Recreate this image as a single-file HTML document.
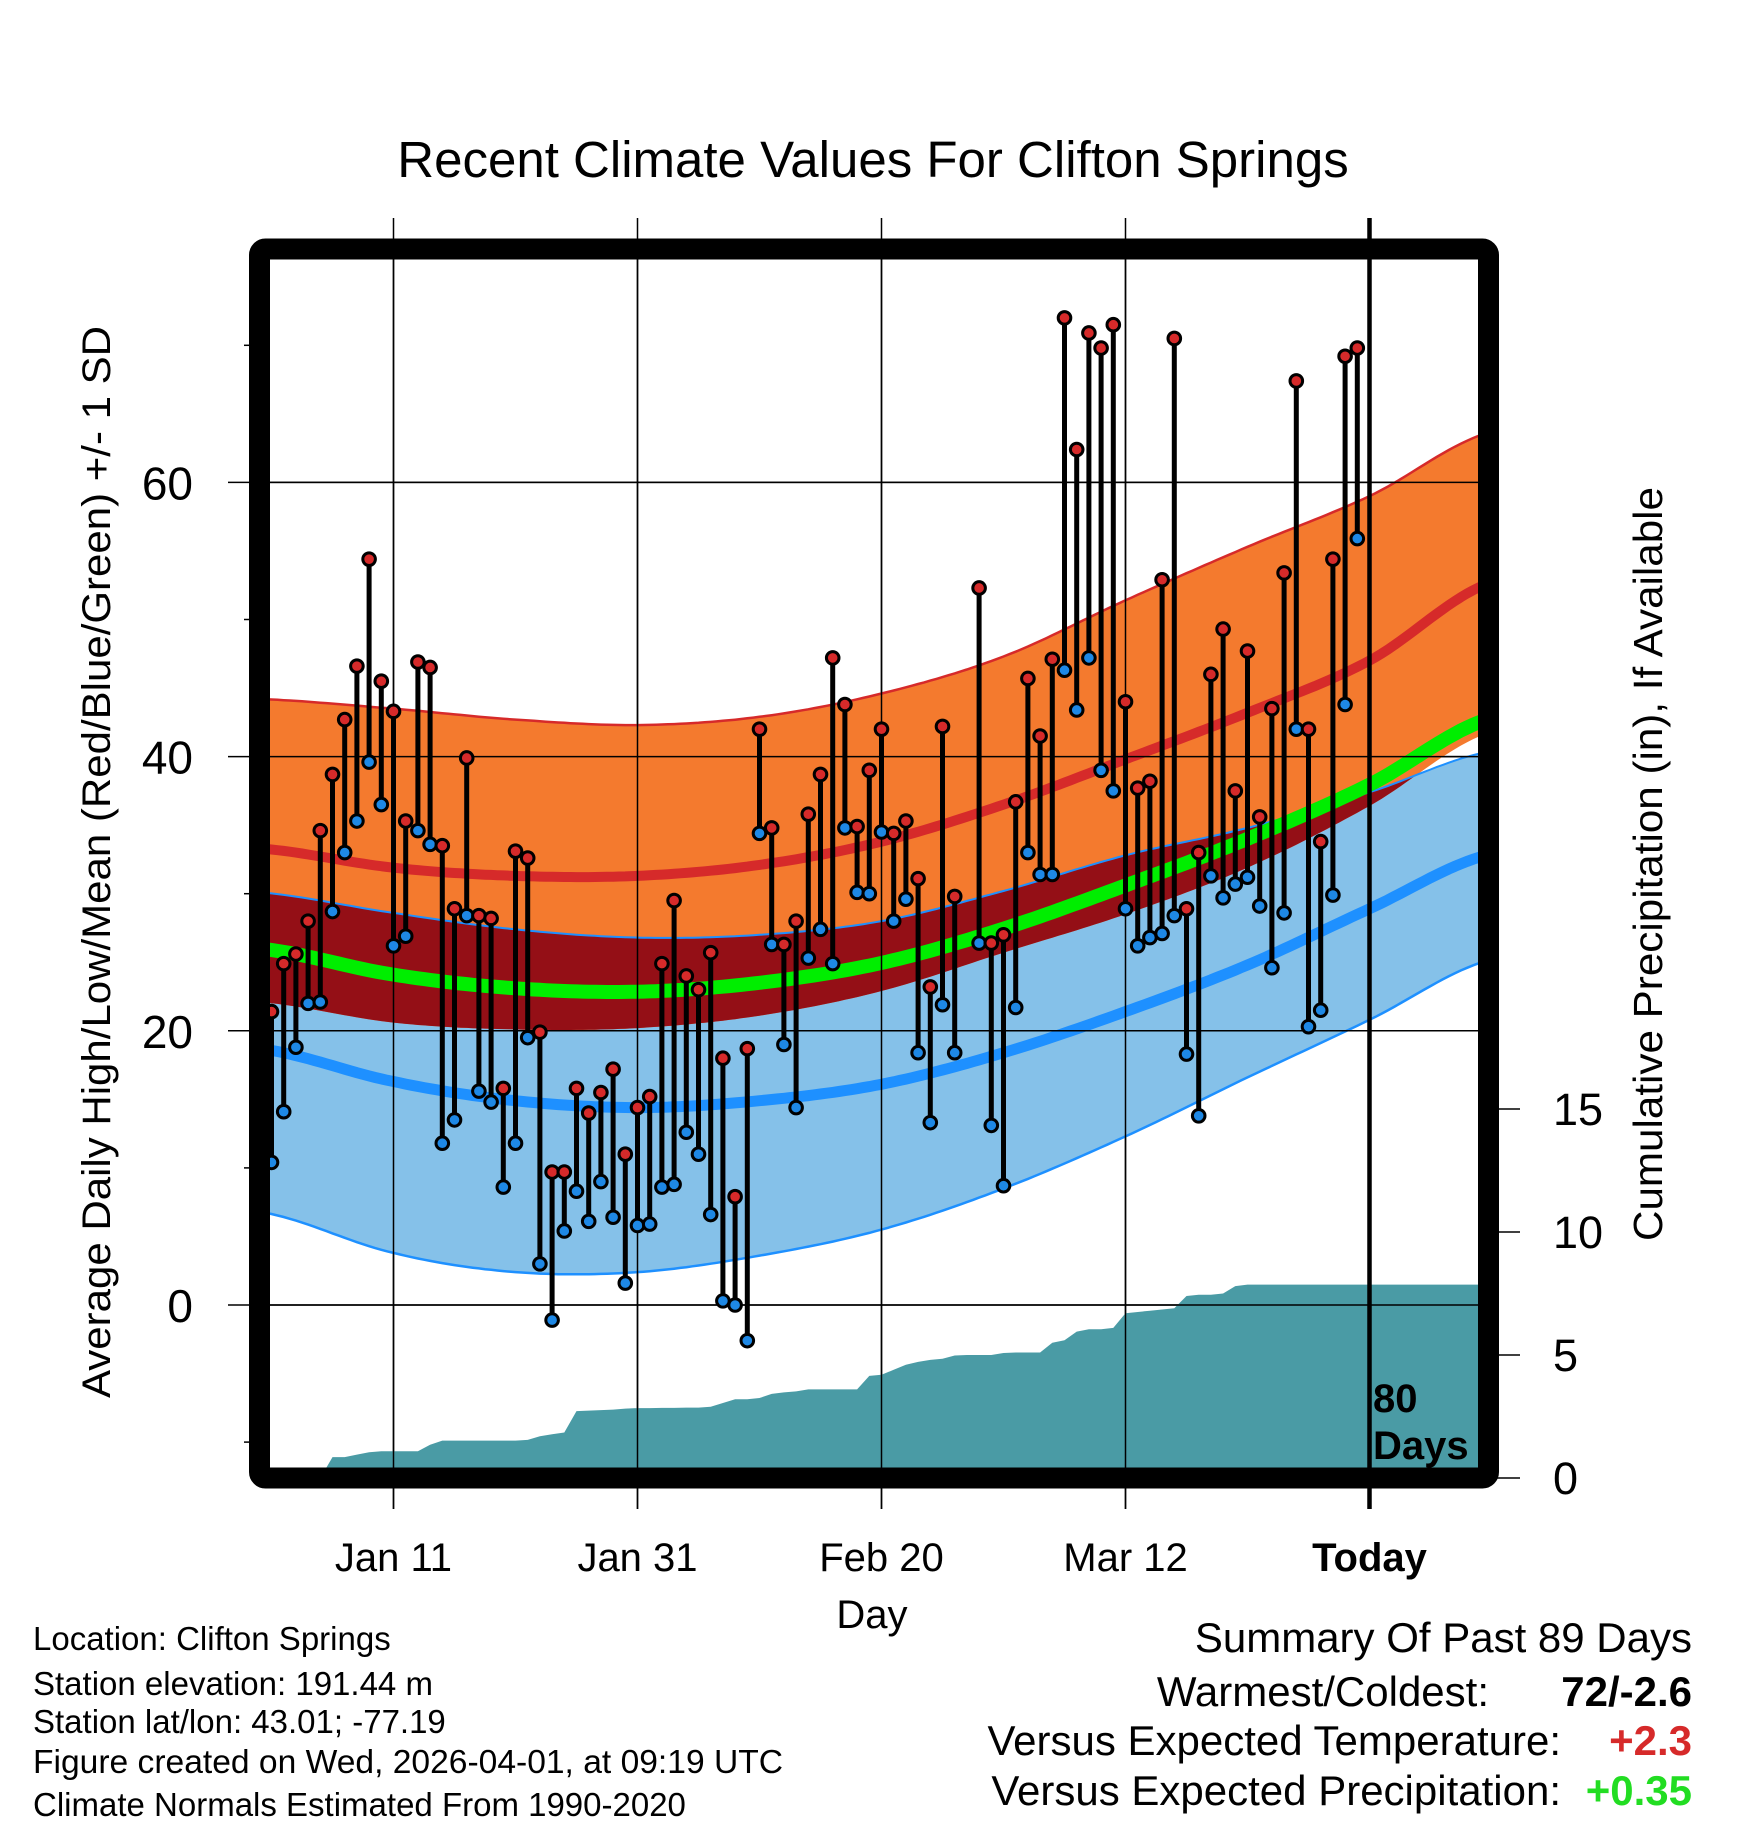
<!DOCTYPE html>
<html><head><meta charset="utf-8"><style>
html,body{margin:0;padding:0;background:#fff;}
svg{display:block;font-family:"Liberation Sans",Arial,sans-serif;}
</style></head><body>
<svg id="chart" width="1748" height="1828" viewBox="0 0 1748 1828" xmlns="http://www.w3.org/2000/svg">
<defs>
<clipPath id="plotclip"><rect x="260" y="249" width="1228" height="1229"/></clipPath>
<clipPath id="lowclip"><path id="lowclipPath" d=""/></clipPath>
</defs>
<rect x="0" y="0" width="1748" height="1828" fill="#fff"/>
<text x="873" y="177" font-size="51" text-anchor="middle">Recent Climate Values For Clifton Springs</text>
<g id="gridlayer"></g>
<g id="plot" clip-path="url(#plotclip)"></g>
<g id="overlay"></g>
<rect x="259.5" y="249" width="1229" height="1229" rx="6" fill="none" stroke="#000" stroke-width="21"/>
<g id="axes"></g>
<text transform="translate(110,862) rotate(-90)" font-size="40" text-anchor="middle" textLength="1072" lengthAdjust="spacingAndGlyphs">Average Daily High/Low/Mean (Red/Blue/Green) +/- 1 SD</text>
<text transform="translate(1662,864) rotate(-90)" font-size="41" text-anchor="middle" textLength="754" lengthAdjust="spacingAndGlyphs">Cumulative Precipitation (in), If Available</text>
<text x="872" y="1628" font-size="40" text-anchor="middle">Day</text>
<g font-size="33">
<text x="33" y="1650">Location: Clifton Springs</text>
<text x="33" y="1695">Station elevation: 191.44 m</text>
<text x="33" y="1733">Station lat/lon: 43.01; -77.19</text>
<text x="33" y="1773" textLength="750" lengthAdjust="spacingAndGlyphs">Figure created on Wed, 2026-04-01, at 09:19 UTC</text>
<text x="33" y="1816">Climate Normals Estimated From 1990-2020</text>
</g>
<g font-size="42">
<text x="1692" y="1652" text-anchor="end">Summary Of Past 89 Days</text>
<text x="1489" y="1706" text-anchor="end">Warmest/Coldest:</text>
<text x="1692" y="1706" text-anchor="end" font-weight="bold">72/-2.6</text>
<text x="1561" y="1755" text-anchor="end">Versus Expected Temperature:</text>
<text x="1692" y="1755" text-anchor="end" font-weight="bold" fill="#d62a2a">+2.3</text>
<text x="1561" y="1805" text-anchor="end">Versus Expected Precipitation:</text>
<text x="1692" y="1805" text-anchor="end" font-weight="bold" fill="#22dd22">+0.35</text>
</g>
</svg>
<script>
// ---- data ----
const normalDays = [-1,10,20,30,40,50,60,70,80,90,100];
const highPlusSD = [44.2,43.5,42.7,42.3,42.9,44.6,47.3,51.4,55.3,59.0,63.7];
const highMean   = [33.3,31.9,31.3,31.3,32.1,33.8,36.5,39.8,43.2,47.0,52.7];
const highMinusSD= [22.1,20.6,20.1,20.2,21.1,22.9,25.7,28.5,31.9,36.4,41.8];
const lowPlusSD  = [30.1,28.6,27.4,26.8,27.0,28.0,30.2,32.8,34.8,37.4,40.4];
const lowMean    = [18.7,16.3,14.9,14.4,14.9,16.1,18.4,21.4,24.8,28.9,32.9];
const lowMinusSD = [6.8,3.8,2.4,2.4,3.6,5.5,8.5,12.3,16.6,20.8,25.2];
const dailyHigh = [21.4,24.9,25.6,28.0,34.6,38.7,42.7,46.6,54.4,45.5,43.3,35.3,46.9,46.5,33.5,28.9,39.9,28.4,28.2,15.8,33.1,32.6,19.9,9.7,9.7,15.8,14.0,15.5,17.2,11.0,14.4,15.2,24.9,29.5,24.0,23.0,25.7,18.0,7.9,18.7,42.0,34.8,26.3,28.0,35.8,38.7,47.2,43.8,34.9,39.0,42.0,34.4,35.3,31.1,23.2,42.2,29.8,null,52.3,26.4,27.0,36.7,45.7,41.5,47.1,72.0,62.4,70.9,69.8,71.5,44.0,37.7,38.2,52.9,70.5,28.9,33.0,46.0,49.3,37.5,47.7,35.6,43.5,53.4,67.4,42.0,33.8,54.4,69.2,69.8];
const dailyLow  = [10.4,14.1,18.8,22.0,22.1,28.7,33.0,35.3,39.6,36.5,26.2,26.9,34.6,33.6,11.8,13.5,28.4,15.6,14.8,8.6,11.8,19.5,3.0,-1.1,5.4,8.3,6.1,9.0,6.4,1.6,5.8,5.9,8.6,8.8,12.6,11.0,6.6,0.3,0.0,-2.6,34.4,26.3,19.0,14.4,25.3,27.4,24.9,34.8,30.1,30.0,34.5,28.0,29.6,18.4,13.3,21.9,18.4,null,26.4,13.1,8.7,21.7,33.0,31.4,31.4,46.3,43.4,47.2,39.0,37.5,28.9,26.2,26.8,27.1,28.4,18.3,13.8,31.3,29.7,30.7,31.2,29.1,24.6,28.6,42.0,20.3,21.5,29.9,43.8,55.9];
const cumPrecip = [0,0,0,0,0,0.85,0.85,0.95,1.05,1.09,1.09,1.09,1.09,1.35,1.52,1.52,1.52,1.52,1.52,1.52,1.52,1.55,1.7,1.78,1.85,2.72,2.74,2.76,2.78,2.82,2.84,2.84,2.85,2.85,2.86,2.86,2.9,3.05,3.2,3.2,3.25,3.42,3.48,3.52,3.6,3.6,3.6,3.6,3.6,4.15,4.2,4.4,4.6,4.72,4.8,4.85,4.98,5.0,5.0,5.0,5.08,5.1,5.1,5.1,5.5,5.6,5.95,6.05,6.05,6.1,6.7,6.75,6.8,6.85,6.9,7.4,7.45,7.45,7.5,7.8,7.86,7.86,7.86,7.86,7.86,7.86,7.86,7.86,7.86,7.86];
const xTickDays = [10,30,50,70,90];
const xTickLabels = ["Jan 11","Jan 31","Feb 20","Mar 12","Today"];
const yMajorTicks = [0,20,40,60];
const yMinorTicks = [-10,10,30,50,70];
const precipTicks = [0,5,10,15];

// ---- scales ----
const xd = d => 271.5 + 12.2*d;
const yt = t => 1305 - 13.71*t;
const yp = p => 1478 - 24.6*p;
const NS = "http://www.w3.org/2000/svg";
function mk(tag, attrs, parent){const e=document.createElementNS(NS,tag);for(const k in attrs)e.setAttribute(k,attrs[k]);parent.appendChild(e);return e;}
function interp(arr, d){
  let i=0; while(i<normalDays.length-2 && d>normalDays[i+1]) i++;
  const t=(d-normalDays[i])/(normalDays[i+1]-normalDays[i]);
  const p0=arr[Math.max(i-1,0)],p1=arr[i],p2=arr[i+1],p3=arr[Math.min(i+2,arr.length-1)];
  const t2=t*t,t3=t2*t;
  return 0.5*((2*p1)+(-p0+p2)*t+(2*p0-5*p1+4*p2-p3)*t2+(-p0+3*p1-3*p2+p3)*t3);
}
const samples=[]; for(let d=-1; d<=100; d+=0.5) samples.push(d);
function linePts(arr){return samples.map(d=>xd(d).toFixed(1)+","+yt(interp(arr,d)).toFixed(1));}
function bandPath(top,bot){const a=linePts(top), b=linePts(bot).reverse();return "M"+a.join("L")+"L"+b.join("L")+"Z";}

const plot=document.getElementById('plot');
const grid=document.getElementById('gridlayer');
const overlay=document.getElementById('overlay');
const axes=document.getElementById('axes');

let pp="M"+xd(0)+","+yp(0);
cumPrecip.forEach((v,i)=>{pp+="L"+xd(i).toFixed(1)+","+yp(v).toFixed(1);});
pp+="L"+xd(100)+","+yp(cumPrecip[cumPrecip.length-1]).toFixed(1)+"L"+xd(100)+","+yp(0)+"Z";
const precipArea=mk('path',{d:pp,fill:'#4a9ba5'},plot);



const lowBand=bandPath(lowPlusSD,lowMinusSD);
document.getElementById('lowclipPath').setAttribute('d',lowBand);
const lb=mk('path',{d:lowBand,fill:'#85c1e9'},plot);


const highBand=bandPath(highPlusSD,highMinusSD);
const hb=mk('path',{d:highBand,fill:'#f47a2e'},plot);


const ov=mk('path',{d:highBand,fill:'#940f16','clip-path':'url(#lowclip)'},plot);



function curve(arr,color,w,name){
  const p=mk('polyline',{points:linePts(arr).join(" "),fill:'none',stroke:color,'stroke-width':w},plot);
  
  
}
curve(highPlusSD,'#d62a2a',2.5,'high-plus-sd-line');
curve(lowPlusSD,'#1e90ff',2,'low-plus-sd-line');
curve(lowMinusSD,'#1e90ff',2.5,'low-minus-sd-line');
curve(highMean,'#d62a2a',10,'high-mean-line');
curve(lowMean,'#1e90ff',11,'low-mean-line');
const avgMean=highMean.map((v,i)=>(v+lowMean[i])/2);
curve(avgMean,'#00ee00',14,'average-mean-line');

xTickDays.slice(0,4).forEach(d=>{
  const l=mk('line',{x1:xd(d),x2:xd(d),y1:218,y2:1509,stroke:'#000','stroke-width':1.5},grid);
  
  
});
xTickDays.slice(0,4).forEach(d=>{
  const l=mk('line',{x1:xd(d),x2:xd(d),y1:249,y2:1478,stroke:'#000','stroke-width':1.5},plot);
  
  
});
yMajorTicks.forEach(t=>{
  const l=mk('line',{x1:228,x2:1488,y1:yt(t),y2:yt(t),stroke:'#000','stroke-width':1.5},grid);
  
  
  const l2=mk('line',{x1:260,x2:1488,y1:yt(t),y2:yt(t),stroke:'#000','stroke-width':1.5},plot);
  
  
});

const today=mk('line',{x1:xd(90),x2:xd(90),y1:218,y2:1509,stroke:'#000','stroke-width':4.5},overlay);



dailyHigh.forEach((h,i)=>{
  const lo=dailyLow[i]; if(h===null||lo===null) return;
  const s=mk('line',{x1:xd(i),x2:xd(i),y1:yt(h),y2:yt(lo),stroke:'#000','stroke-width':5},overlay);
  
  
});
dailyHigh.forEach((h,i)=>{
  const lo=dailyLow[i]; if(h===null||lo===null) return;
  const c1=mk('circle',{cx:xd(i),cy:yt(h),r:6.3,fill:'#d62a2a',stroke:'#000','stroke-width':3},overlay);
  
  
  const c2=mk('circle',{cx:xd(i),cy:yt(lo),r:6.3,fill:'#1e88e5',stroke:'#000','stroke-width':3},overlay);
  
  
});

const t80=mk('text',{x:1373,y:1412,'font-size':40,'font-weight':'bold'},overlay);
t80.textContent='80';


const tDays=mk('text',{x:1373,y:1459,'font-size':40,'font-weight':'bold'},overlay);
tDays.textContent='Days';



xTickDays.forEach((d,i)=>{
  const tk=mk('line',{x1:xd(d),x2:xd(d),y1:1478,y2:1509,stroke:'#000','stroke-width':1.5},axes);
  
  
  const tx=mk('text',{x:xd(d),y:1571,'font-size':40,'text-anchor':'middle'},axes);
  if(i===4) tx.setAttribute('font-weight','bold');
  tx.textContent=xTickLabels[i];
  
  
});
yMajorTicks.forEach(t=>{
  const tx=mk('text',{x:193,y:yt(t)+17,'font-size':46,'text-anchor':'end'},axes);
  tx.textContent=String(t);
  
  
});
yMinorTicks.forEach(t=>{
  const l=mk('line',{x1:244,x2:260,y1:yt(t),y2:yt(t),stroke:'#000','stroke-width':1.5},axes);
  
  
});
precipTicks.forEach(p=>{
  const l=mk('line',{x1:1488,x2:1520,y1:yp(p),y2:yp(p),stroke:'#000','stroke-width':1.5},axes);
  
  
  const tx=mk('text',{x:1553,y:yp(p)+16,'font-size':45},axes);
  tx.textContent=String(p);
  
  
});
</script>
</body></html>
